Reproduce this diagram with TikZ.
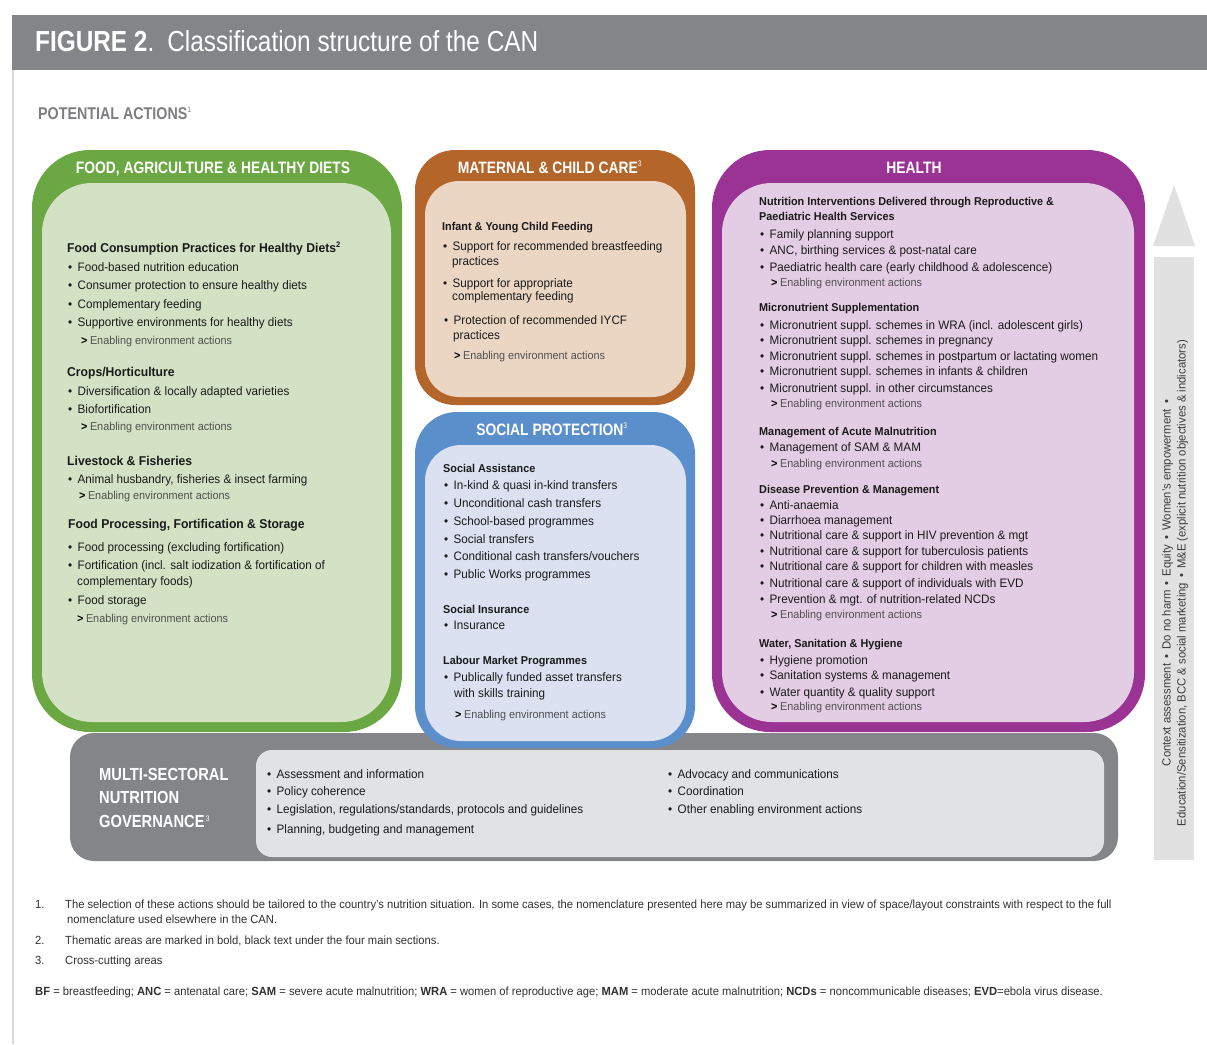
\documentclass[tikz,border=0pt]{standalone}
\usepackage{fontspec}
\setmainfont{Liberation Sans}[FakeStretch=0.95]
\newfontfamily\hdfont{Liberation Sans}[FakeStretch=0.84]
\definecolor{hdgray}{HTML}{848589}
\definecolor{gr}{HTML}{6BA843}
\definecolor{grl}{HTML}{D3E1C4}
\definecolor{or}{HTML}{B4652A}
\definecolor{orl}{HTML}{EBD6C4}
\definecolor{bl}{HTML}{5B8FCC}
\definecolor{bll}{HTML}{DBE1F1}
\definecolor{pu}{HTML}{9B3394}
\definecolor{pul}{HTML}{E3CDE4}
\definecolor{gvd}{HTML}{848589}
\definecolor{gvl}{HTML}{E1E2E4}
\definecolor{arr}{HTML}{E1E1E1}
\definecolor{tx}{HTML}{1A1A1A}
\definecolor{en}{HTML}{505050}
\tikzset{
  t/.style={anchor=base west, inner sep=0pt, yshift=-4pt, text=tx, font=\fontsize{12.3}{14}\selectfont},
  th/.style={t, font=\bfseries\fontsize{12.8}{14}\selectfont},
  ths/.style={t, font=\bfseries\fontsize{11.4}{14}\selectfont},
  bu/.style={t},
  ena/.style={t, text=en, font=\fontsize{11.4}{14}\selectfont},
  sec/.style={anchor=base, inner sep=0pt, yshift=-6pt, text=white, font=\hdfont\bfseries\fontsize{16.5}{18}\selectfont},
  fn/.style={anchor=base west, inner sep=0pt, yshift=-4pt, text=tx!90, font=\fontsize{11.8}{13}\selectfont},
}
\newcommand{\bl}[1]{\makebox[9.5pt][l]{\textbullet}#1}
\newcommand{\enab}{\textcolor{black}{\bfseries >}\hspace{2.5pt}Enabling environment actions}
\begin{document}
\begin{tikzpicture}[x=1pt,y=-1pt]
\useasboundingbox (0,0) rectangle (1207,1044);
\fill[white] (0,0) rectangle (1207,1044);
% left rule and header band
\fill[black!15] (12,70) rectangle (14,1044);
\fill[hdgray] (12,15) rectangle (1207,70);
\node[anchor=base west, inner sep=0pt, text=white, font=\hdfont\fontsize{29}{32}\selectfont] (title) at (35,51)
  {\textbf{FIGURE 2}.\hspace{13pt}Classification structure of the CAN};
\node[anchor=base west, inner sep=0pt, text=hdgray!95!black, font=\hdfont\bfseries\fontsize{17}{19}\selectfont] (pot) at (38,119)
  {POTENTIAL ACTIONS\textsuperscript{\fontsize{8}{8}\selectfont\mdseries 1}};

% governance bar (behind)
\fill[gvd, rounded corners=24] (70,733) rectangle (1118,861);
\fill[gvl, rounded corners=16] (256,750) rectangle (1104,857);

% green box
\fill[gr, rounded corners=58] (32,150) rectangle (402,732);
\fill[grl, rounded corners=50] (42,183) rectangle (391,722);
% maternal
\fill[or, rounded corners=40] (415,150) rectangle (695,405);
\fill[orl, rounded corners=34] (425,181) rectangle (686,397);
% social
\fill[bl, rounded corners=42] (415,412) rectangle (695,748);
\fill[bll, rounded corners=36] (425,445) rectangle (686,741);
% health
\fill[pu, rounded corners=58] (712,150) rectangle (1145,732);
\fill[pul, rounded corners=50] (722,183) rectangle (1134,722);

% section headers
\node[sec] (hfood) at (213,167) {FOOD, AGRICULTURE \& HEALTHY DIETS};
\node[sec] (hmat) at (550,167) {MATERNAL \& CHILD CARE\textsuperscript{\fontsize{8}{8}\selectfont\mdseries 3}};
\node[sec] (hsoc) at (552,429) {SOCIAL PROTECTION\textsuperscript{\fontsize{8}{8}\selectfont\mdseries 3}};
\node[sec] (hhea) at (914,167) {HEALTH};

% FOOD box content
\node[th] (fa) at (67,248) {Food Consumption Practices for Healthy Diets\textsuperscript{\fontsize{8}{8}\selectfont 2}};
\foreach \s/\y [count=\i] in {{Food-based nutrition education}/267,{Consumer protection to ensure healthy diets}/285,{Complementary feeding}/304,{Supportive environments for healthy diets}/322}
  \node[bu] (fa\i) at (68,\y) {\bl{\s}};
\node[ena] (fae) at (81,340) {\enab};
\node[th] (fb) at (67,372) {Crops/Horticulture};
\foreach \s/\y [count=\i] in {{Diversification \& locally adapted varieties}/391,{Biofortification}/409}
  \node[bu] (fb\i) at (68,\y) {\bl{\s}};
\node[ena] (fbe) at (81,426) {\enab};
\node[th] (fc) at (67,461) {Livestock \& Fisheries};
\node[bu] (fc1) at (68,479) {\bl{Animal husbandry, fisheries \& insect farming}};
\node[ena] (fce) at (79,495) {\enab};
\node[th] (fd) at (68,524) {Food Processing, Fortification \& Storage};
\node[bu] (fd1) at (68,547) {\bl{Food processing (excluding fortification)}};
\node[bu] (fd2) at (68,565) {\bl{Fortification (incl. salt iodization \& fortification of}};
\node[t] (fd2b) at (77,581) {complementary foods)};
\node[bu] (fd3) at (68,600) {\bl{Food storage}};
\node[ena] (fde) at (77,618) {\enab};

% MATERNAL content
\node[ths] (ma) at (442,226) {Infant \& Young Child Feeding};
\node[bu] (ma1) at (443,246) {\bl{Support for recommended breastfeeding}};
\node[t] (ma1b) at (452,261) {practices};
\node[bu] (ma2) at (443,283) {\bl{Support for appropriate}};
\node[t] (ma2b) at (452,296) {complementary feeding};
\node[bu] (ma3) at (444,320) {\bl{Protection of recommended IYCF}};
\node[t] (ma3b) at (453,335) {practices};
\node[ena] (mae) at (454,355) {\enab};

% SOCIAL content
\node[ths] (sa) at (443,468) {Social Assistance};
\foreach \s/\y [count=\i] in {{In-kind \& quasi in-kind transfers}/485,{Unconditional cash transfers}/503,{School-based programmes}/521,{Social transfers}/539,{Conditional cash transfers/vouchers}/556,{Public Works programmes}/574}
  \node[bu] (sa\i) at (444,\y) {\bl{\s}};
\node[ths] (sb) at (443,609) {Social Insurance};
\node[bu] (sb1) at (444,625) {\bl{Insurance}};
\node[ths] (sc) at (443,660) {Labour Market Programmes};
\node[bu] (sc1) at (444,677) {\bl{Publically funded asset transfers}};
\node[t] (sc1b) at (454,693) {with skills training};
\node[ena] (sce) at (455,714) {\enab};

% HEALTH content
\node[ths] (ha) at (759,201) {Nutrition Interventions Delivered through Reproductive \&};
\node[ths] (ha0) at (759,216) {Paediatric Health Services};
\foreach \s/\y [count=\i] in {{Family planning support}/234,{ANC, birthing services \& post-natal care}/250,{Paediatric health care (early childhood \& adolescence)}/267}
  \node[bu] (ha\i) at (760,\y) {\bl{\s}};
\node[ena] (hae) at (771,282) {\enab};
\node[ths] (hb) at (759,307) {Micronutrient Supplementation};
\foreach \s/\y [count=\i] in {{Micronutrient suppl. schemes in WRA (incl. adolescent girls)}/325,{Micronutrient suppl. schemes in pregnancy}/340,{Micronutrient suppl. schemes in postpartum or lactating women}/356,{Micronutrient suppl. schemes in infants \& children}/371,{Micronutrient suppl. in other circumstances}/388}
  \node[bu] (hb\i) at (760,\y) {\bl{\s}};
\node[ena] (hbe) at (771,403) {\enab};
\node[ths] (hc) at (759,431) {Management of Acute Malnutrition};
\node[bu] (hc1) at (760,447) {\bl{Management of SAM \& MAM}};
\node[ena] (hce) at (771,463) {\enab};
\node[ths] (hd) at (759,489) {Disease Prevention \& Management};
\foreach \s/\y [count=\i] in {{Anti-anaemia}/505,{Diarrhoea management}/520,{Nutritional care \& support in HIV prevention \& mgt}/535,{Nutritional care \& support for tuberculosis patients}/551,{Nutritional care \& support for children with measles}/566,{Nutritional care \& support of individuals with EVD}/583,{Prevention \& mgt. of nutrition-related NCDs}/599}
  \node[bu] (hd\i) at (760,\y) {\bl{\s}};
\node[ena] (hde) at (771,614) {\enab};
\node[ths] (he) at (759,643) {Water, Sanitation \& Hygiene};
\foreach \s/\y [count=\i] in {{Hygiene promotion}/660,{Sanitation systems \& management}/675,{Water quantity \& quality support}/692}
  \node[bu] (he\i) at (760,\y) {\bl{\s}};
\node[ena] (hee) at (771,706) {\enab};

% GOVERNANCE
\node[anchor=north west, inner sep=0pt, align=left, text=white, font=\hdfont\bfseries\fontsize{17.5}{23.5}\selectfont] (gov) at (99,768)
  {MULTI-SECTORAL\\NUTRITION\\GOVERNANCE\textsuperscript{\fontsize{8}{8}\selectfont\mdseries\,3}};
\foreach \s/\y [count=\i] in {{Assessment and information}/774,{Policy coherence}/791,{Legislation, regulations/standards, protocols and guidelines}/809,{Planning, budgeting and management}/829}
  \node[bu] (ga\i) at (267,\y) {\bl{\s}};
\foreach \s/\y [count=\i] in {{Advocacy and communications}/774,{Coordination}/791,{Other enabling environment actions}/809}
  \node[bu] (gb\i) at (668,\y) {\bl{\s}};

% cross-cutting arrow
\fill[arr] (1154,257) rectangle (1194,860);
\fill[arr] (1153,246) -- (1174,185) -- (1195,246) -- cycle;
\node[rotate=90, inner sep=0pt, align=center, text=tx!85, font=\fontsize{11.9}{15}\selectfont] (cross) at (1175,583)
  {Context assessment \,\textbullet\, Do no harm \,\textbullet\, Equity \,\textbullet\, Women's empowerment \,\textbullet\\
   Education/Sensitization, BCC \& social marketing \,\textbullet\, M\&E (explicit nutrition objectives \& indicators)};

% footnotes
\node[fn] (n1) at (35,904) {1.};
\node[fn] (n1t) at (65,904) {The selection of these actions should be tailored to the country's nutrition situation. In some cases, the nomenclature presented here may be summarized in view of space/layout constraints with respect to the full};
\node[fn] (n1u) at (67,919) {nomenclature used elsewhere in the CAN.};
\node[fn] (n2) at (35,940) {2.};
\node[fn] (n2t) at (65,940) {Thematic areas are marked in bold, black text under the four main sections.};
\node[fn] (n3) at (35,960) {3.};
\node[fn] (n3t) at (65,960) {Cross-cutting areas};
\node[fn] (abbr) at (35,991) {\textbf{BF} = breastfeeding; \textbf{ANC} = antenatal care; \textbf{SAM} = severe acute malnutrition; \textbf{WRA} = women of reproductive age; \textbf{MAM} = moderate acute malnutrition; \textbf{NCDs} = noncommunicable diseases; \textbf{EVD}=ebola virus disease.};
\end{tikzpicture}
\end{document}
